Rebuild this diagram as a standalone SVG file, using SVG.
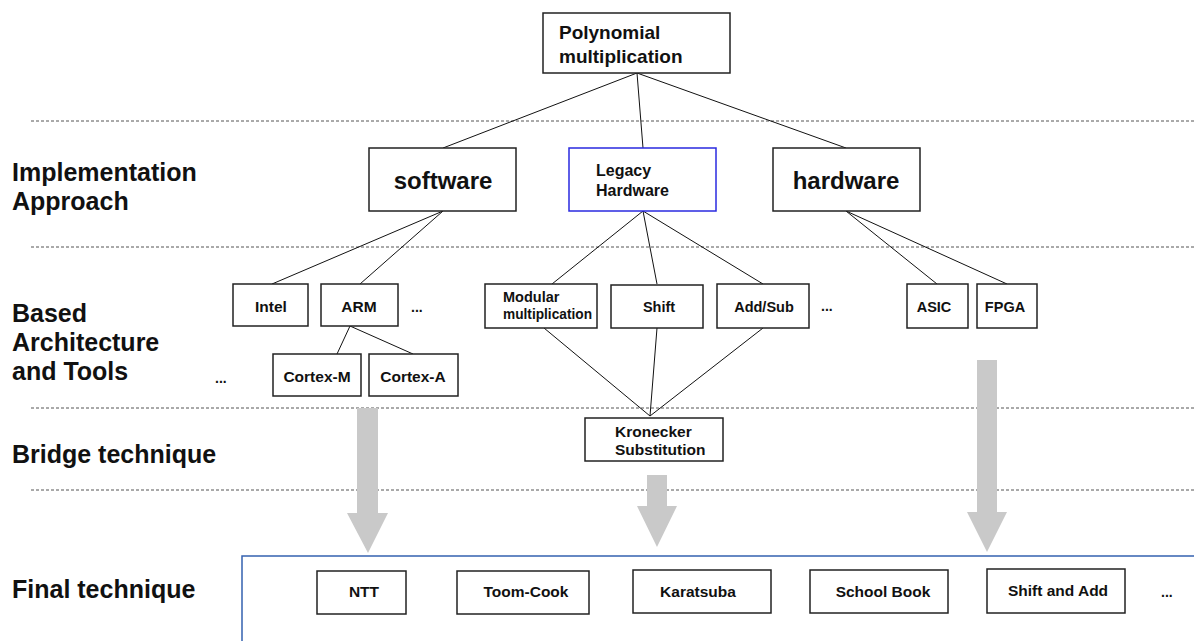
<svg xmlns="http://www.w3.org/2000/svg" width="1194" height="641" viewBox="0 0 1194 641">
<style>
  text { font-family: "Liberation Sans", Arial, sans-serif; font-weight: bold; fill: #111; }
  .box { fill: #fff; stroke: #222; stroke-width: 1.5; }
  .legacy { fill: #fff; stroke: #2a2ae0; stroke-width: 1.5; }
  .frame { fill: none; stroke: #3562b0; stroke-width: 1.5; }
  .dash { stroke: #555; stroke-width: 1; stroke-dasharray: 3 2; fill: none; }
  .conn { stroke: #111; stroke-width: 1; fill: none; }
  .arrow { fill: #c9c9c9; stroke: none; }
  .lbl { font-size: 25px; }
  .big { font-size: 24px; }
  .mid { font-size: 19px; }
  .s16 { font-size: 16px; }
  .s15 { font-size: 15.5px; }
  .s14 { font-size: 14.5px; }
  .dots { font-size: 14px; }
  .c { text-anchor: middle; }
</style>
<rect width="1194" height="641" fill="#fff"/>

<g id="separators">
  <line class="dash" x1="31" y1="121" x2="1194" y2="121"/>
  <line class="dash" x1="31" y1="247" x2="1194" y2="247"/>
  <line class="dash" x1="31" y1="408" x2="1194" y2="408"/>
  <line class="dash" x1="31" y1="490" x2="1194" y2="490"/>
</g>

<g id="row-labels">
  <text class="lbl" x="12" y="181">Implementation</text>
  <text class="lbl" x="12" y="210">Approach</text>
  <text class="lbl" x="12" y="322">Based</text>
  <text class="lbl" x="12" y="351">Architecture</text>
  <text class="lbl" x="12" y="380">and Tools</text>
  <text class="lbl" x="12" y="463">Bridge technique</text>
  <text class="lbl" x="12" y="598">Final technique</text>
</g>

<g id="final-frame">
  <rect class="frame" x="242" y="556" width="1000" height="120"/>
</g>

<g id="big-arrows">
  <polygon class="arrow" points="357,408 378,408 378,513 388,513 368,553 347,513 357,513"/>
  <polygon class="arrow" points="647,475 667,475 667,506 677,506 657,547 637,506 647,506"/>
  <polygon class="arrow" points="977,360 997,360 997,512 1007,512 987,552 967,512 977,512"/>
</g>

<g id="connectors">
  <line class="conn" x1="637" y1="73" x2="443" y2="148"/>
  <line class="conn" x1="637" y1="73" x2="643" y2="148"/>
  <line class="conn" x1="637" y1="73" x2="846" y2="148"/>
  <line class="conn" x1="443" y1="211" x2="272" y2="284"/>
  <line class="conn" x1="443" y1="211" x2="360" y2="284"/>
  <line class="conn" x1="350" y1="326" x2="337" y2="354"/>
  <line class="conn" x1="350" y1="326" x2="413" y2="354"/>
  <line class="conn" x1="643" y1="211" x2="552" y2="284"/>
  <line class="conn" x1="643" y1="211" x2="657" y2="284"/>
  <line class="conn" x1="643" y1="211" x2="763" y2="284"/>
  <line class="conn" x1="846" y1="211" x2="937" y2="284"/>
  <line class="conn" x1="846" y1="211" x2="1007" y2="284"/>
  <line class="conn" x1="544" y1="328" x2="650" y2="416"/>
  <line class="conn" x1="657" y1="328" x2="650" y2="416"/>
  <line class="conn" x1="763" y1="328" x2="650" y2="416"/>
</g>

<g id="poly">
  <rect class="box" x="543" y="13" width="187" height="60"/>
  <text class="mid" x="559" y="39">Polynomial</text>
  <text class="mid" x="559" y="63">multiplication</text>
</g>
<g id="software">
  <rect class="box" x="369" y="148" width="147" height="63"/>
  <text class="big c" x="443" y="189">software</text>
</g>
<g id="legacy">
  <rect class="legacy" x="569" y="148" width="147" height="63"/>
  <text class="s16" x="596" y="176">Legacy</text>
  <text class="s16" x="596" y="196">Hardware</text>
</g>
<g id="hardware">
  <rect class="box" x="773" y="148" width="147" height="63"/>
  <text class="big c" x="846" y="189">hardware</text>
</g>

<g id="intel">
  <rect class="box" x="233" y="284" width="75" height="42"/>
  <text class="s15 c" x="271" y="312">Intel</text>
</g>
<g id="arm">
  <rect class="box" x="321" y="284" width="77" height="42"/>
  <text class="s15 c" x="359" y="312">ARM</text>
</g>
<text class="dots" x="411" y="312">...</text>
<g id="cortex-m">
  <rect class="box" x="273" y="354" width="88" height="42"/>
  <text class="s15 c" x="317" y="382">Cortex-M</text>
</g>
<g id="cortex-a">
  <rect class="box" x="369" y="354" width="89" height="42"/>
  <text class="s15 c" x="413" y="382">Cortex-A</text>
</g>
<text class="dots" x="215" y="383">...</text>

<g id="modular">
  <rect class="box" x="485" y="284" width="112" height="44"/>
  <text class="s14" x="503" y="302">Modular</text>
  <text class="s14" x="503" y="319" textLength="89" lengthAdjust="spacingAndGlyphs">multiplication</text>
</g>
<g id="shift">
  <rect class="box" x="611" y="285" width="92" height="43"/>
  <text class="s14 c" x="659" y="312">Shift</text>
</g>
<g id="addsub">
  <rect class="box" x="717" y="284" width="92" height="44"/>
  <text class="s14 c" x="764" y="312">Add/Sub</text>
</g>
<text class="dots" x="821" y="311">...</text>

<g id="asic">
  <rect class="box" x="907" y="284" width="61" height="44"/>
  <text class="s14 c" x="934" y="312">ASIC</text>
</g>
<g id="fpga">
  <rect class="box" x="977" y="284" width="60" height="44"/>
  <text class="s14 c" x="1005" y="312">FPGA</text>
</g>

<g id="kronecker">
  <rect class="box" x="585" y="418" width="138" height="43"/>
  <text class="s15" x="615" y="437">Kronecker</text>
  <text class="s15" x="615" y="455">Substitution</text>
</g>

<g id="ntt">
  <rect class="box" x="317" y="571" width="89" height="43"/>
  <text class="s15 c" x="364" y="597">NTT</text>
</g>
<g id="toom">
  <rect class="box" x="457" y="571" width="132" height="43"/>
  <text class="s15 c" x="526" y="597">Toom-Cook</text>
</g>
<g id="karatsuba">
  <rect class="box" x="633" y="570" width="138" height="43"/>
  <text class="s15 c" x="698" y="597">Karatsuba</text>
</g>
<g id="schoolbook">
  <rect class="box" x="810" y="570" width="138" height="43"/>
  <text class="s15 c" x="883" y="597">School Book</text>
</g>
<g id="shiftadd">
  <rect class="box" x="987" y="569" width="138" height="44"/>
  <text class="s15 c" x="1058" y="596">Shift and Add</text>
</g>
<text class="dots" x="1161" y="597">...</text>
</svg>
